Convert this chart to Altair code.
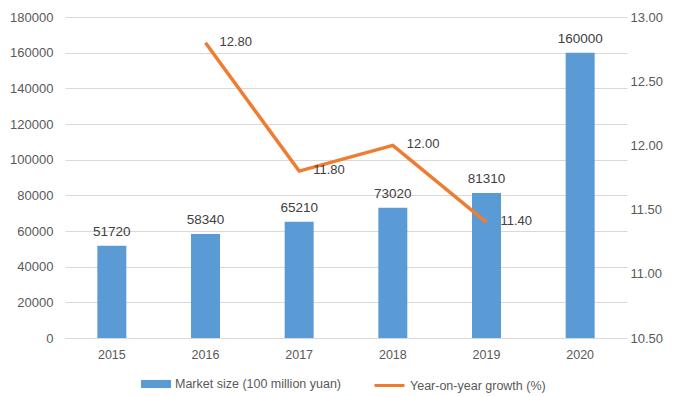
import altair as alt
import pandas as pd

years = ["2015", "2016", "2017", "2018", "2019", "2020"]
market = [51720, 58340, 65210, 73020, 81310, 160000]
growth_years = ["2016", "2017", "2018", "2019"]
growth = [12.80, 11.80, 12.00, 11.40]

bar_name = "Market size (100 million yuan)"
line_name = "Year-on-year growth (%)"

df_bar = pd.DataFrame({"year": years, "value": market, "series": bar_name})
df_line = pd.DataFrame({"year": growth_years, "value": growth, "series": line_name})

FONT = "Liberation Sans"
GRAY = "#595959"

x = alt.X("year:N", sort=years, title=None,
          scale=alt.Scale(paddingInner=0.69, paddingOuter=0.345),
          axis=alt.Axis(labelAngle=0, ticks=False, domainColor="#D9D9D9",
                        labelColor=GRAY, labelFont=FONT, labelFontSize=12.5, labelPadding=10))

yl = alt.Y("value:Q", title=None,
           scale=alt.Scale(domain=[0, 180000], nice=False),
           axis=alt.Axis(values=list(range(0, 180001, 20000)), format="d", domain=False, ticks=False,
                         grid=True, gridColor="#D9D9D9", labelColor=GRAY, labelFont=FONT,
                         labelFontSize=13, labelPadding=12))

yr = alt.Y("value:Q", title=None,
           scale=alt.Scale(domain=[10.5, 13.0], nice=False, zero=False),
           axis=alt.Axis(values=[10.5, 11.0, 11.5, 12.0, 12.5, 13.0], format=".2f",
                         orient="right", domain=False, ticks=False, grid=False,
                         labelColor=GRAY, labelFont=FONT, labelFontSize=13, labelPadding=3))

bars = alt.Chart(df_bar).mark_bar(size=29).encode(
    x=x, y=yl,
    fill=alt.Fill("series:N", title=None,
                  scale=alt.Scale(domain=[bar_name], range=["#5B9BD5"]),
                  legend=alt.Legend(orient="none", legendX=76, legendY=352,
                                    symbolType="M-1,-0.27H1V0.27H-1Z", symbolSize=900,
                                    symbolStrokeWidth=0, labelFontSize=12.5, labelLimit=0,
                                    labelColor=GRAY, labelFont=FONT)))
bar_text = alt.Chart(df_bar).mark_text(dy=-14, fontSize=13.5, color="#404040", font=FONT).encode(
    x=x, y=yl, text=alt.Text("value:Q", format="d"))

line = alt.Chart(df_line).mark_line(strokeWidth=3.5).encode(
    x=x, y=yr,
    stroke=alt.Stroke("series:N", title=None,
                      scale=alt.Scale(domain=[line_name], range=["#ED7D31"]),
                      legend=alt.Legend(orient="none", legendX=308, legendY=352,
                                        symbolType="stroke", symbolSize=900,
                                        symbolStrokeWidth=3, labelFontSize=12.5, labelLimit=0,
                                        labelColor=GRAY, labelFont=FONT)))
line_text = alt.Chart(df_line).mark_text(align="left", dx=14, dy=-1, fontSize=13,
                                         color="#404040", font=FONT).encode(
    x=x, y=yr, text=alt.Text("value:Q", format=".2f"))

chart = alt.layer(
    alt.layer(bars, bar_text),
    alt.layer(line, line_text),
).resolve_scale(y="independent", fill="independent", stroke="independent").properties(
    width=562, height=321,
    autosize=alt.AutoSizeParams(type="none"),
    padding={"left": 65, "top": 17, "right": 46, "bottom": 58},
).configure_view(stroke=None)

chart.save("out.html", embed_options={"renderer": "svg", "actions": False})
